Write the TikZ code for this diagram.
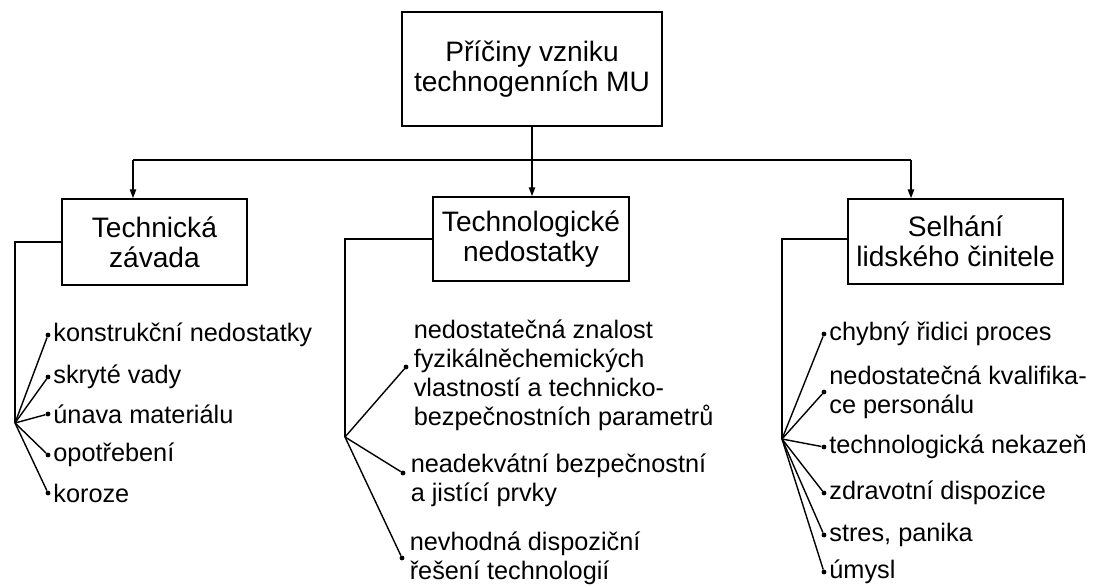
\documentclass[tikz,border=0pt]{standalone}
\usepackage{fontspec}
\setmainfont{Liberation Sans}
\usetikzlibrary{positioning, arrows.meta}

\begin{document}
\begin{tikzpicture}
    [
        node distance=1mm and 0.6mm,
        cause_box/.style={rectangle, draw=black, line width=1.3pt, align=center, inner sep=0pt, font=\fontsize{20}{21.5}\selectfont},
        dot_node/.style={circle, fill=black, inner sep=0pt, minimum size=1.2mm},
        item_text/.style={inner sep=0pt, align=left, font=\fontsize{18}{20.6}\selectfont},
        link/.style={line width=1pt, color=black},
        down_arrow/.style={line width=1pt, color=black, -{Triangle[length=2.2mm, width=1.6mm]}},
    ]
        \useasboundingbox (0,0) rectangle (27.4,-14.675);
        % hlavni box a tri skupiny pricin
        \node[cause_box, minimum width=6.5cm, minimum height=2.85cm] (top) at (13.3,-1.725) {P\v{r}í\v{c}iny vzniku\\technogenních MU};
        \node[cause_box, minimum width=4.625cm, minimum height=2.15cm] (z1) at (3.86,-6.05) {Technická\\závada};
        \node[cause_box, minimum width=4.9cm, minimum height=2.1cm] (z2) at (13.275,-5.975) {Technologické\\nedostatky};
        \node[cause_box, minimum width=5.375cm, minimum height=2.125cm] (z3) at (23.89,-6.04) {Selhání\\lidského \v{c}initele};
        \coordinate (b1) at (3.325,-4.0);
        \coordinate (b3) at (22.775,-4.0);
        \draw[link] (b1) -- (b3) ;
        \draw[down_arrow] (top.south) -- (top.south |- z2.north) ;
        \draw[down_arrow] (b1) -- (b1 |- z1.north) ;
        \draw[down_arrow] (b3) -- (b3 |- z3.north) ;
        % vetve
        \coordinate (f1) at (0.375,-10.575);
        \coordinate (f2) at (8.625,-10.925);
        \coordinate (f3) at (19.55,-10.975);
        \draw[link] (z1.west) -| (f1) ;
        \draw[link] (z2.west) -| (f2) ;
        \draw[link] (z3.west |- 0,-5.975) -| (f3) ;
        % technicka zavada
        \node[dot_node] (a1) at (1.2,-8.375) {};
        \node[dot_node] (a2) at (1.2,-9.425) {};
        \node[dot_node] (a3) at (1.2,-10.35) {};
        \node[dot_node] (a4) at (1.2,-11.375) {};
        \node[dot_node] (a5) at (1.2,-12.325) {};
        \node[item_text] (ta1) [right=of a1] {konstruk\v{c}ní nedostatky};
        \node[item_text] (ta2) [right=of a2] {skryté vady};
        \node[item_text] (ta3) [right=of a3] {únava materiálu};
        \node[item_text] (ta4) [right=of a4] {opot\v{r}ebení};
        \node[item_text] (ta5) [right=of a5] {koroze};
        \foreach \i in {1,...,5}
            \draw[link] (f1) -- (a\i) ;
        % technologicke nedostatky
        \node[dot_node] (m1) at (10.15,-9.175) {};
        \node[dot_node] (m2) at (10.075,-11.825) {};
        \node[dot_node] (m3) at (10.05,-13.95) {};
        \node[item_text, yshift=-0.2cm] (tm1) [right=1.2mm of m1] {nedostate\v{c}ná znalost\\fyzikáln\v{e}chemických\\vlastností a technicko-\\bezpe\v{c}nostních parametr\r{u}};
        \node[item_text, yshift=-0.18cm] (tm2) [right=1.2mm of m2] {neadekvátní bezpe\v{c}nostní\\a jistící prvky};
        \node[item_text] (tm3) [right=1.2mm of m3] {nevhodná dispozi\v{c}ní\\\v{r}e\v{s}ení technologií};
        \foreach \i in {1,2,3}
            \draw[link] (f2) -- (m\i) ;
        % selhani lidskeho cinitele
        \node[dot_node] (h1) at (20.6,-8.35) {};
        \node[dot_node] (h2) at (20.6,-9.8) {};
        \node[dot_node] (h3) at (20.6,-11.175) {};
        \node[dot_node] (h4) at (20.6,-12.325) {};
        \node[dot_node] (h5) at (20.6,-13.375) {};
        \node[dot_node] (h6) at (20.6,-14.3) {};
        \node[item_text] (th1) [right=of h1] {chybný \v{r}idici proces};
        \node[item_text] (th2) [right=of h2] {nedostate\v{c}ná kvalifika-\\ce personálu};
        \node[item_text] (th3) [right=of h3] {technologická nekaze\v{n}};
        \node[item_text] (th4) [right=of h4] {zdravotní dispozice};
        \node[item_text] (th5) [right=of h5] {stres, panika};
        \node[item_text] (th6) [right=of h6] {úmysl};
        \foreach \i in {1,...,6}
            \draw[link] (f3) -- (h\i) ;
    \end{tikzpicture}
\end{document}
